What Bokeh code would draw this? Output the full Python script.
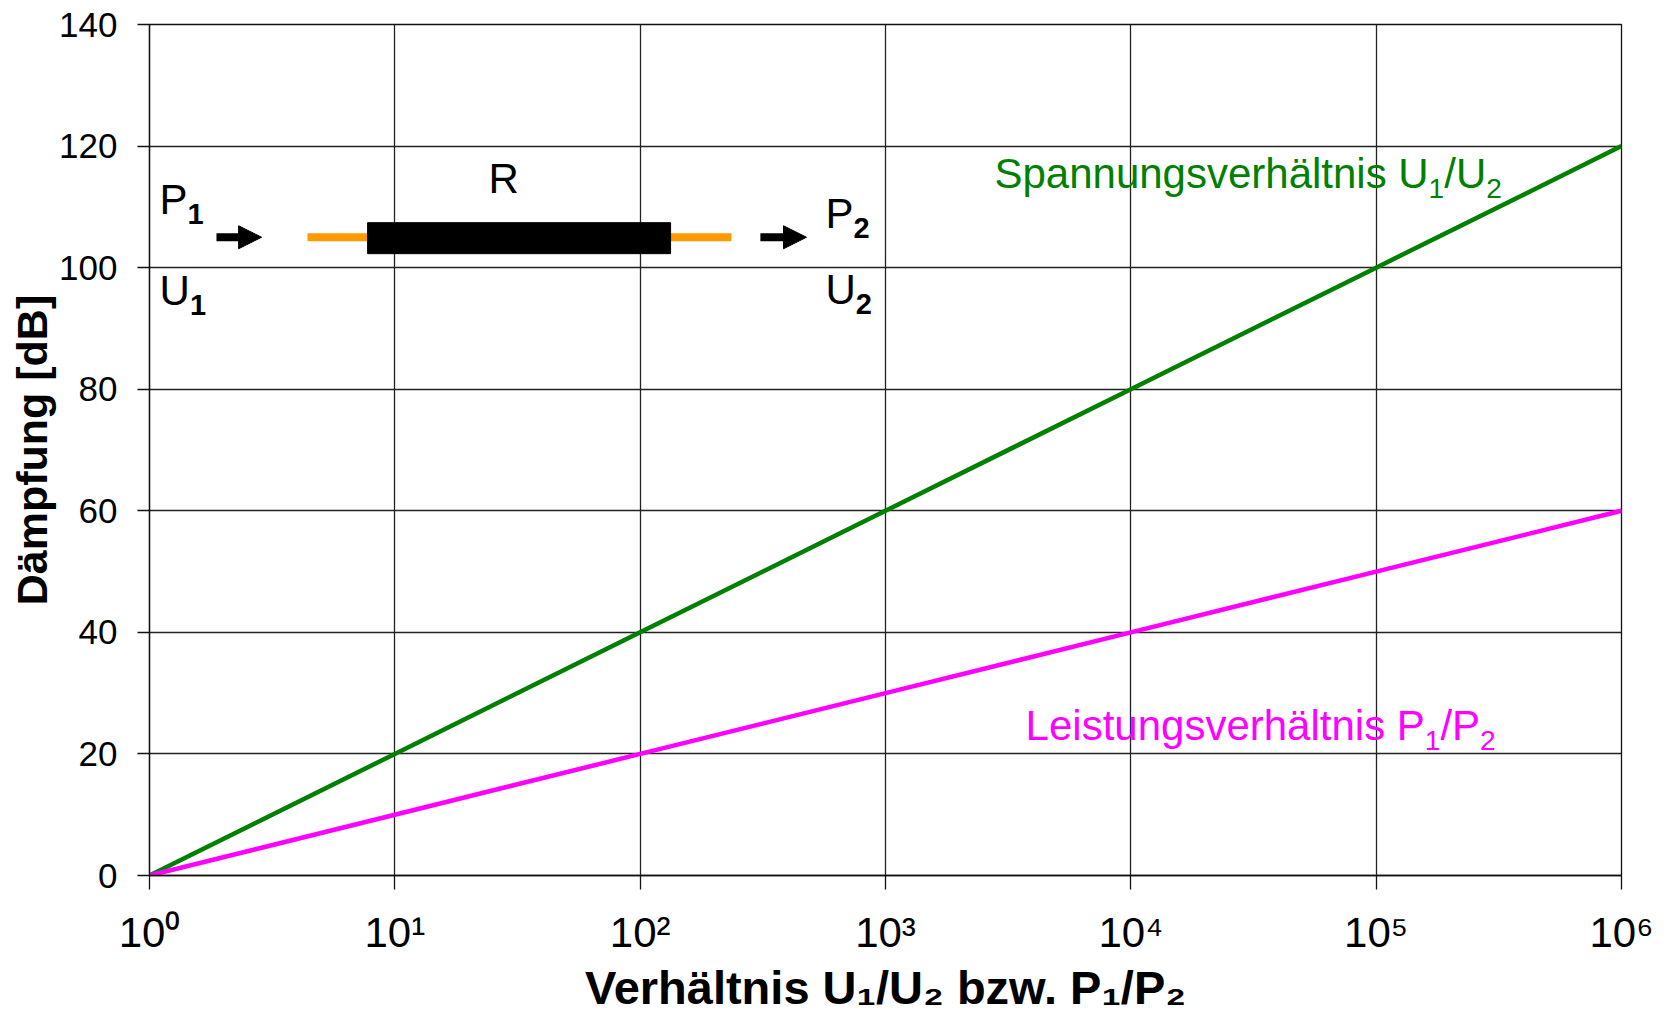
import math
from bokeh.plotting import figure
from bokeh.models import (Range1d, Label, Arrow, NormalHead, CustomJSTickFormatter,
                          FixedTicker)
from bokeh.embed import file_html
from bokeh.resources import INLINE

# ---------------- data ----------------
ratio = [1, 10, 100, 1000, 10000, 100000, 1000000]
spannung_db = [0, 20, 40, 60, 80, 100, 120]      # 20*log10(U1/U2)
leistung_db = [0, 10, 20, 30, 40, 50, 60]        # 10*log10(P1/P2)
y_ticks = [0, 20, 40, 60, 80, 100, 120, 140]
x_tick_exponents = [0, 1, 2, 3, 4, 5, 6]

GREEN = "#008000"
MAGENTA = "#FF00FF"
ORANGE = "#FF9900"
FONT = "Liberation Sans"

# Arial / Liberation Sans advance widths (1/1000 em)
W_REG = {' ': 278, '/': 278, '.': 278, 'S': 667, 'p': 556, 'a': 556, 'n': 556, 'u': 556,
         'g': 556, 's': 500, 'v': 500, 'e': 556, 'r': 333, 'h': 556, 'ä': 556, 'l': 222,
         't': 278, 'i': 222, 'U': 722, 'L': 556, 'P': 667, 'R': 722}
W_BOLD = {' ': 278, '/': 278, '.': 278, 'V': 667, 'e': 556, 'r': 389, 'h': 611, 'ä': 556,
          'l': 278, 't': 333, 'n': 611, 'i': 278, 's': 556, 'U': 722, 'b': 611, 'z': 500,
          'w': 778, 'P': 667}

BASE_FIX = 14.0 / 42.0   # empirical baseline correction (fraction of font size)


def text_width(s, size, bold):
    table = W_BOLD if bold else W_REG
    return sum(table.get(c, 556) for c in s) / 1000.0 * size


def rich(p, x, y, parts, size, color, sub_scale=0.67, sub_drop=0.24):
    """parts: list of (text, kind, bold) with kind 'n' or 'sub'."""
    cur = 0.0
    for text, kind, bold in parts:
        fs = size if kind == "n" else size * sub_scale
        stripped = text.lstrip(" ")
        lead = text_width(text[:len(text) - len(stripped)], fs, bold)
        dy = (0.0 if kind == "n" else -sub_drop * size) + BASE_FIX * fs
        p.add_layout(Label(x=x, y=y, x_offset=cur + lead, y_offset=dy, text=stripped,
                           text_font=FONT, text_font_size=f"{fs:.1f}px",
                           text_font_style="bold" if bold else "normal",
                           text_color=color, text_baseline="alphabetic", text_align="left"))
        cur += text_width(text, fs, bold)


def X(decade):
    return 10 ** decade


p = figure(width=1671, height=1016, x_axis_type="log",
           x_range=Range1d(1, 1e6), y_range=Range1d(0, 140),
           output_backend="svg", toolbar_location=None,
           min_border_left=149, min_border_right=50, min_border_top=24, min_border_bottom=141)
p.background_fill_color = "white"
p.border_fill_color = "white"
p.outline_line_color = "#111111"
p.outline_line_width = 1.3

# axes
p.xaxis.ticker = FixedTicker(ticks=[10 ** e for e in x_tick_exponents], minor_ticks=[])
p.xaxis.formatter = CustomJSTickFormatter(code="""
const sup = ["\\u2070", "\\u00B9", "\\u00B2", "\\u00B3", "\\u2074", "\\u2075", "\\u2076",
             "\\u2077", "\\u2078", "\\u2079"];
const e = Math.round(Math.log10(tick));
return "10" + String(e).split("").map((c) => sup[Number(c)]).join("");
""")
p.yaxis.ticker = FixedTicker(ticks=y_ticks, minor_ticks=[])
for ax in (p.xaxis[0], p.yaxis[0]):
    ax.axis_line_color = "#111111"
    ax.axis_line_width = 1.3
    ax.major_tick_line_color = "#111111"
    ax.major_tick_line_width = 1.3
    ax.major_tick_in = 0
    ax.minor_tick_out = 0
    ax.minor_tick_in = 0
    ax.major_label_text_font = FONT
    ax.major_label_text_color = "black"
    ax.axis_label_text_font = FONT
    ax.axis_label_text_font_style = "bold"
    ax.axis_label_text_color = "black"
p.xaxis.major_tick_out = 14
p.xaxis.major_label_text_font_size = "42px"
p.xaxis.major_label_standoff = 19
p.xaxis.axis_label = "Verhältnis U\u2081/U\u2082 bzw. P\u2081/P\u2082"
p.xaxis.axis_label_text_font_size = "47px"
p.xaxis.axis_label_standoff = 2
p.yaxis.major_tick_out = 12
p.yaxis.major_label_text_font_size = "35px"
p.yaxis.major_label_standoff = 20
p.yaxis.axis_label = "Dämpfung [dB]"
p.yaxis.axis_label_text_font_size = "43px"
p.yaxis.axis_label_standoff = 0

p.xgrid.grid_line_color = "#222222"
p.xgrid.grid_line_width = 1.3
p.ygrid.grid_line_color = "#222222"
p.ygrid.grid_line_width = 1.3

# data lines
p.line(ratio, spannung_db, line_color=GREEN, line_width=4.5)
p.line(ratio, leistung_db, line_color=MAGENTA, line_width=4.5)

# series labels
rich(p, X(3.444), 113.2, [("Spannungsverhältnis U", "n", False), ("1", "sub", False),
                          ("/U", "n", False), ("2", "sub", False)], 42, GREEN)
rich(p, X(3.571), 22.4, [("Leistungsverhältnis P", "n", False), ("1", "sub", False),
                         ("/P", "n", False), ("2", "sub", False)], 42, MAGENTA)

# inset diagram: resistor between two ports
p.segment(x0=[X(0.644)], y0=[105], x1=[X(2.372)], y1=[105], line_color=ORANGE,
          line_width=8)
p.quad(left=[X(0.889)], right=[X(2.124)], bottom=[102.3], top=[107.4],
       fill_color="black", line_color="black")
for d0, d1 in ((0.273, 0.457), (2.49, 2.678)):
    p.add_layout(Arrow(end=NormalHead(size=23, fill_color="black", line_color="black"),
                       x_start=X(d0), y_start=105, x_end=X(d1), y_end=105,
                       line_color="black", line_width=8))
rich(p, X(1.382), 112.35, [("R", "n", False)], 42, "black")
rich(p, X(0.041), 108.9, [("P", "n", False), ("1", "sub", True)], 42, "black", sub_scale=0.69)
rich(p, X(0.041), 93.9, [("U", "n", False), ("1", "sub", True)], 42, "black", sub_scale=0.69)
rich(p, X(2.755), 106.6, [("P", "n", False), ("2", "sub", True)], 42, "black", sub_scale=0.69)
rich(p, X(2.755), 94.1, [("U", "n", False), ("2", "sub", True)], 42, "black", sub_scale=0.69)

open("out.html", "w").write(file_html(p, INLINE))
